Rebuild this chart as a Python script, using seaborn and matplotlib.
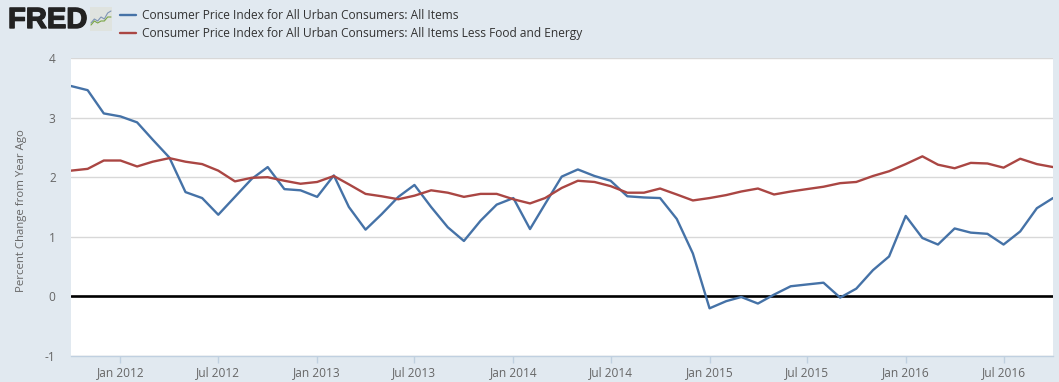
import numpy as np
import pandas as pd
import matplotlib
matplotlib.use("Agg")
import matplotlib.pyplot as plt
import matplotlib.dates as mdates
import matplotlib.patheffects as pe
import seaborn as sns

months = pd.date_range("2011-10-01", "2016-10-01", freq="MS")
all_items = [3.53, 3.46, 3.07, 3.02, 2.92, 2.63, 2.33, 1.75, 1.65, 1.37, 1.67, 1.97,
             2.17, 1.80, 1.78, 1.67, 2.03, 1.50, 1.12, 1.38, 1.67, 1.87, 1.50, 1.16,
             0.93, 1.27, 1.54, 1.65, 1.13, 1.55, 2.01, 2.13, 2.02, 1.94, 1.68, 1.66,
             1.65, 1.30, 0.72, -0.20, -0.08, -0.01, -0.12, 0.03, 0.17, 0.20, 0.23, -0.02,
             0.13, 0.44, 0.67, 1.35, 0.98, 0.87, 1.14, 1.07, 1.05, 0.87, 1.09, 1.48, 1.65]
less_food_energy = [2.11, 2.14, 2.28, 2.28, 2.18, 2.26, 2.32, 2.26, 2.22, 2.11, 1.93, 1.99,
                    2.00, 1.94, 1.89, 1.92, 2.02, 1.88, 1.72, 1.68, 1.63, 1.69, 1.78, 1.74,
                    1.67, 1.72, 1.72, 1.63, 1.56, 1.65, 1.82, 1.94, 1.92, 1.85, 1.74, 1.74,
                    1.81, 1.71, 1.61, 1.65, 1.70, 1.76, 1.81, 1.71, 1.76, 1.80, 1.84, 1.90,
                    1.92, 2.02, 2.10, 2.22, 2.35, 2.21, 2.15, 2.24, 2.23, 2.16, 2.31, 2.22, 2.17]
label_all = "Consumer Price Index for All Urban Consumers: All Items"
label_core = "Consumer Price Index for All Urban Consumers: All Items Less Food and Energy"
y_ticks = [-1, 0, 1, 2, 3, 4]
logo_a = [0, 1, 2, 3, 4, 5, 6]
logo_b = [1, 3, 2, 4, 3, 6, 7]
logo_c = [0, 2, 1, 2, 2, 4, 4]

BG = "#e1e9f0"
BLUE = "#4572a7"
RED = "#aa4643"
TXT = "#666666"

sns.set_theme(style="white")
plt.rcParams["font.family"] = ["Open Sans", "DejaVu Sans"]

W, H = 1059, 382
fig = plt.figure(figsize=(W / 100, H / 100), dpi=100, facecolor=BG)
ax = fig.add_axes([71 / W, 1 - 356 / H, (1053 - 71) / W, (356 - 58) / H])
ax.set_facecolor("white")

df = pd.DataFrame({"date": months, label_all: all_items, label_core: less_food_energy})
long_df = df.melt("date", var_name="series", value_name="pct")
sns.lineplot(data=long_df, x="date", y="pct", hue="series", palette=[BLUE, RED],
             linewidth=1.7, ax=ax, zorder=3)

ax.set_xlim(months[0], months[-1])
ax.set_ylim(-1, 4)
ax.set_yticks(y_ticks)
ax.set_yticklabels([str(t) for t in y_ticks])
ax.yaxis.grid(True, color="#d8d8d8", linewidth=1)
ax.set_axisbelow(True)
ax.axhline(0, color="black", linewidth=1.9, zorder=2.5)
for s in ["top", "left", "right"]:
    ax.spines[s].set_visible(False)
ax.spines["bottom"].set_color("#c0d0e0")
ax.spines["bottom"].set_linewidth(1)

ax.xaxis.set_major_locator(mdates.MonthLocator(bymonth=[1, 7]))
ax.xaxis.set_major_formatter(mdates.DateFormatter("%b %Y"))
ax.tick_params(axis="x", length=5, width=1, color="#c0d0e0", labelcolor=TXT,
               labelsize=8.6, pad=2, bottom=True)
ax.tick_params(axis="y", length=0, labelcolor=TXT, labelsize=8.6, pad=11)
ax.set_xlabel("")
ax.set_ylabel("")
fig.text(22 / W, 1 - 211 / H, "Percent Change from Year Ago", rotation=90,
         ha="center", va="center", color=TXT, fontsize=8.2)

handles, labels = ax.get_legend_handles_labels()
ax.legend(handles, labels, loc="upper left", bbox_to_anchor=(120 / W, 1 - 9 / H),
          bbox_transform=fig.transFigure, frameon=False, fontsize=8.68,
          labelcolor="#333333", handlelength=1.33, handletextpad=0.5,
          labelspacing=0.4, borderpad=0, borderaxespad=0)

fig.text(8 / W, 1 - 20 / H, "FRED", fontsize=21, fontweight="bold", color="#222222",
         ha="left", va="center", family=["Liberation Sans", "DejaVu Sans"],
         path_effects=[pe.withStroke(linewidth=1.0, foreground="#222222")])
icon = fig.add_axes([90 / W, 1 - 31 / H, 22 / W, 24 / H], facecolor="#dfe3df")
icon.plot(logo_a, logo_b, color="#7f95b5", linewidth=0.8)
icon.plot(logo_a, logo_c, color="#7aa545", linewidth=0.8)
icon.set_ylim(-3, 9)
icon.set_xticks([])
icon.set_yticks([])
for s in icon.spines.values():
    s.set_visible(False)

fig.savefig("out.png", dpi=100, facecolor=BG)
